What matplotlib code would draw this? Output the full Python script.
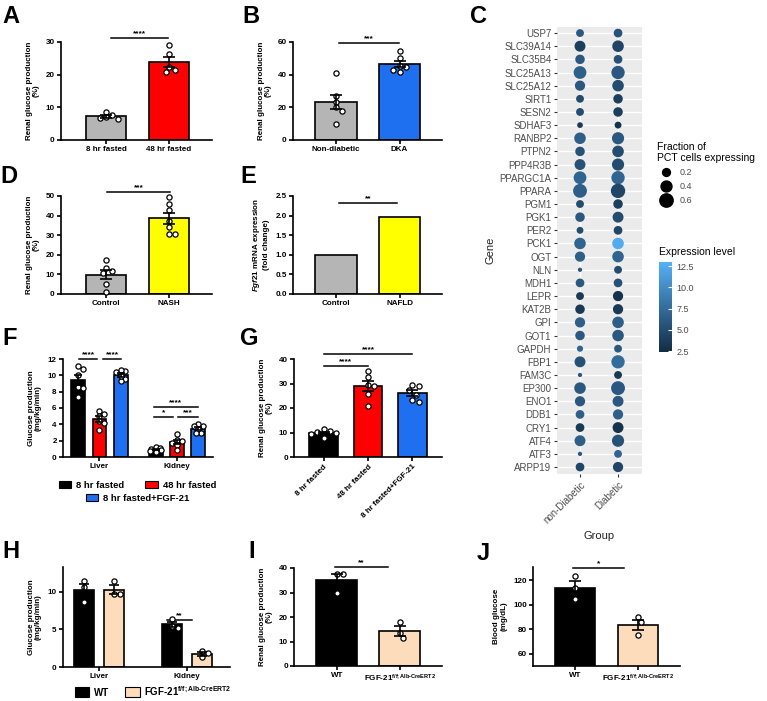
import numpy as np
import matplotlib
matplotlib.use("Agg")
import matplotlib.pyplot as plt
from matplotlib.colors import LinearSegmentedColormap
from matplotlib.patches import Patch

plt.rcParams['font.family'] = ['Liberation Sans', 'DejaVu Sans']
plt.rcParams['font.weight'] = 'bold'
plt.rcParams['mathtext.fontset'] = 'custom'
plt.rcParams['mathtext.default'] = 'regular'
plt.rcParams['mathtext.rm'] = 'Liberation Sans:bold'
plt.rcParams['mathtext.it'] = 'Liberation Sans:italic:bold'
plt.rcParams['mathtext.bf'] = 'Liberation Sans:bold'
plt.rcParams['axes.linewidth'] = 1.2

# ---- data ----
# A
a_groups = ['8 hr fasted', '48 hr fasted']
a_8hr = [8.7, 7.8, 6.9, 6.6, 6.5]
a_48hr = [29.0, 26.4, 22.3, 21.3, 20.8]
# B
b_groups = ['Non-diabetic', 'DKA']
b_nondiab = [40.8, 27.0, 23.5, 20.0, 17.5, 9.6]
b_dka = [54.5, 50.0, 45.3, 45.0, 42.7, 41.8]
# D
d_groups = ['Control', 'NASH']
d_control = [17.5, 13.5, 11.5, 10.8, 5.2, 0.8]
d_nash = [49.5, 46.0, 43.0, 37.0, 34.0, 30.5, 30.5]
# E
e_groups = ['Control', 'NAFLD']
e_fold = [1.0, 1.97]
# F
f_tissues = ['Liver', 'Kidney']
f_conditions = ['8 hr fasted', '48 hr fasted', '8 hr fasted+FGF-21']
f_liver = [[10.8, 11.2, 10.0, 8.6, 7.4, 8.4],
           [5.3, 5.6, 5.0, 4.4, 4.2, 3.35],
           [10.5, 10.6, 10.4, 9.5, 9.3, 9.9]]
f_kidney = [[1.2, 1.1, 1.0, 0.8, 0.7, 0.6],
            [2.85, 2.1, 2.0, 1.7, 1.5, 0.9],
            [4.0, 3.85, 3.75, 3.4, 2.9, 2.9]]
# G
g_groups = ['8 hr fasted', '48 hr fasted', '8 hr fasted+FGF-21']
g_8hr = [11.3, 10.7, 10.4, 9.7, 9.4, 7.6]
g_48hr = [35.1, 32.8, 29.2, 28.8, 25.8, 21.0]
g_fgf = [29.4, 29.0, 27.2, 25.4, 23.1, 22.5]
# H
h_tissues = ['Liver', 'Kidney']
h_wt = [[11.4, 10.6, 8.7], [6.4, 5.4, 5.2]]
h_ko = [[11.5, 9.7, 9.7], [2.1, 1.9, 1.3]]
ko_label = 'FGF-21$^{f/f{;}Alb{\u2010}CreERT2}$'
# I
i_groups = ['WT', ko_label]
i_wt = [37.7, 37.7, 30.0]
i_ko = [18.1, 13.4, 11.4]
# J
j_groups = ['WT', ko_label]
j_wt = [123.3, 114.0, 105.0]
j_ko = [89.9, 85.8, 75.6]
# C
genes = ['USP7', 'SLC39A14', 'SLC35B4', 'SLC25A13', 'SLC25A12', 'SIRT1', 'SESN2',
         'SDHAF3', 'RANBP2', 'PTPN2', 'PPP4R3B', 'PPARGC1A', 'PPARA', 'PGM1', 'PGK1',
         'PER2', 'PCK1', 'OGT', 'NLN', 'MDH1', 'LEPR', 'KAT2B', 'GPI', 'GOT1', 'GAPDH',
         'FBP1', 'FAM3C', 'EP300', 'ENO1', 'DDB1', 'CRY1', 'ATF4', 'ATF3', 'ARPP19']
c_groups = ['non-Diabetic', 'Diabetic']
frac_nondiab = [0.2, 0.4, 0.3, 0.55, 0.35, 0.2, 0.2, 0.1, 0.45, 0.3, 0.4, 0.55, 0.65,
                0.2, 0.3, 0.15, 0.45, 0.35, 0.05, 0.25, 0.2, 0.3, 0.35, 0.3, 0.12,
                0.4, 0.05, 0.45, 0.35, 0.25, 0.25, 0.4, 0.05, 0.25]
frac_diab = [0.25, 0.45, 0.25, 0.6, 0.45, 0.3, 0.3, 0.15, 0.5, 0.45, 0.5, 0.6, 0.7,
             0.3, 0.4, 0.25, 0.45, 0.45, 0.2, 0.25, 0.35, 0.35, 0.45, 0.45, 0.2,
             0.6, 0.2, 0.65, 0.4, 0.35, 0.4, 0.5, 0.2, 0.35]
expr_nondiab = [6.0, 4.0, 6.0, 6.5, 6.0, 5.0, 5.0, 3.5, 6.5, 5.5, 5.5, 7.0, 6.5,
                5.0, 6.0, 5.0, 7.0, 6.5, 6.0, 6.0, 3.5, 3.5, 6.5, 6.0, 7.0,
                5.5, 6.0, 6.0, 6.0, 6.5, 3.5, 6.5, 6.0, 4.5]
expr_diab = [5.5, 4.5, 5.5, 6.0, 5.0, 4.0, 4.0, 3.0, 6.0, 5.0, 5.0, 7.0, 4.5,
             4.0, 5.0, 4.5, 12.5, 7.0, 5.0, 5.5, 3.0, 3.5, 6.5, 6.0, 6.0,
             7.5, 3.5, 6.0, 6.0, 6.5, 3.0, 5.5, 7.0, 4.5]

GRAY = '#b5b5b5'
RED = '#ff0000'
BLUE = '#1f70f0'
YELLOW = '#ffff00'
PEACH = '#fddcbc'

W, H = 767, 701
fig = plt.figure(figsize=(W / 100, H / 100), dpi=100)


def add_ax(l, t, r, b):
    return fig.add_axes([l / W, 1 - b / H, (r - l) / W, (b - t) / H])


def prism(ax, xlim, ylim, yticks, ylabel, fmt=None):
    ax.set_xlim(*xlim)
    ax.set_ylim(*ylim)
    ax.set_yticks(yticks)
    if fmt:
        ax.set_yticklabels([fmt % v for v in yticks])
    for s in ['top', 'right']:
        ax.spines[s].set_visible(False)
    ax.tick_params(length=3, width=1.2, labelsize=5.8, pad=1.5)
    ax.set_ylabel(ylabel, fontsize=5.8, fontweight='bold', labelpad=4, linespacing=1.1)


def swarm_offsets(ax, vals, d=5.5, max_px=None):
    pos = ax.get_position()
    x0, x1 = ax.get_xlim()
    y0, y1 = ax.get_ylim()
    xppu = pos.width * W / (x1 - x0)
    yppu = pos.height * H / (y1 - y0)
    ys = np.asarray(vals) * yppu
    offs = np.zeros(len(vals))
    placed = []
    for i in np.argsort(vals)[::-1]:
        for k in [0, 1, -1, 2, -2, 3, -3, 4, -4, 5, -5]:
            x = k * d * 0.55
            if all((x - px) ** 2 + (ys[i] - py) ** 2 >= d ** 2 for px, py in placed):
                break
        if max_px is not None:
            x = float(np.clip(x, -max_px, max_px))
        placed.append((x, ys[i]))
        offs[i] = x / xppu
    return offs


def bars(ax, xs, sets, colors, width, cap=4.5, d=5.5, max_px=None):
    for x, vals, c in zip(xs, sets, colors):
        vals = np.asarray(vals, dtype=float)
        m = vals.mean()
        ax.bar(x, m, width, color=c, edgecolor='black', linewidth=1.2, zorder=2)
        off = swarm_offsets(ax, vals, d, max_px)
        ax.scatter(x + off, vals, s=14, facecolor='white', edgecolor='black',
                   linewidth=0.9, zorder=3, clip_on=False)
        sem = vals.std(ddof=1) / np.sqrt(len(vals))
        ax.errorbar(x, m, yerr=sem, fmt='none', ecolor='black', elinewidth=1.2,
                    capsize=cap, capthick=1.2, zorder=4)


def sig(ax, x1, x2, y, stars, dy):
    ax.plot([x1, x2], [y, y], color='black', lw=1.1, clip_on=False)
    ax.text((x1 + x2) / 2, y + dy, stars, ha='center', va='bottom', fontsize=6,
            fontweight='bold')


def letter(x, y, s):
    fig.text(x / W, 1 - y / H, s, fontsize=17, fontweight='bold', va='top', ha='left')


# ---- A ----
ax = add_ax(61, 42, 212, 140)
prism(ax, (-0.714, 1.683), (0, 30), [0, 10, 20, 30], 'Renal glucose production\n(%)')
bars(ax, [0, 1], [a_8hr, a_48hr], [GRAY, RED], 0.65)
ax.set_xticks([0, 1])
ax.set_xticklabels(a_groups)
sig(ax, 0.08, 0.98, 31.2, '****', 0.3)

# ---- B ----
ax = add_ax(293, 42, 442, 140)
prism(ax, (-0.677, 1.669), (0, 60), [0, 20, 40, 60], 'Renal glucose production\n(%)')
bars(ax, [0, 1], [b_nondiab, b_dka], [GRAY, BLUE], 0.65)
ax.set_xticks([0, 1])
ax.set_xticklabels(b_groups)
sig(ax, 0.05, 0.99, 59.4, '***', 0.6)

# ---- D ----
ax = add_ax(61, 196, 212, 294)
prism(ax, (-0.714, 1.683), (0, 50), [0, 10, 20, 30, 40, 50], 'Renal glucose production\n(%)')
bars(ax, [0, 1], [d_control, d_nash], [GRAY, YELLOW], 0.65)
ax.set_xticks([0, 1])
ax.set_xticklabels(d_groups)
sig(ax, 0.02, 1.02, 52.0, '***', 0.6)

# ---- E ----
ax = add_ax(293, 196, 442, 294)
prism(ax, (-0.677, 1.669), (0, 2.5), [0, 0.5, 1.0, 1.5, 2.0, 2.5],
      r'$\it{Fgf21}$ mRNA expression' + '\n(fold change)', fmt='%.1f')
ax.bar([0, 1], e_fold, 0.65, color=[GRAY, YELLOW], edgecolor='black', linewidth=1.2)
ax.set_xticks([0, 1])
ax.set_xticklabels(e_groups)
sig(ax, 0.05, 0.96, 2.32, '**', 0.03)

# ---- F ----
ax = add_ax(63, 359, 213, 457)
prism(ax, (-0.471, 1.465), (0, 12), [0, 2, 4, 6, 8, 10, 12], 'Glucose production\n(mg/kg/min)')
f_colors = ['black', RED, BLUE]
for gi, tissue in enumerate([f_liver, f_kidney]):
    bars(ax, [gi - 0.275, gi, gi + 0.275], tissue, f_colors, 0.18, cap=3, d=4.2, max_px=5.5)
ax.set_xticks([0, 1])
ax.set_xticklabels(f_tissues)
sig(ax, -0.27, -0.026, 12.0, '****', 0.1)
sig(ax, 0.039, 0.284, 12.0, '****', 0.1)
sig(ax, 0.703, 1.271, 6.16, '****', 0.1)
sig(ax, 0.703, 0.948, 4.94, '*', 0.1)
sig(ax, 1.013, 1.271, 4.94, '***', 0.1)
hf = [Patch(facecolor=c, edgecolor='black', linewidth=0.8) for c in f_colors]
fig.legend(hf[:2], f_conditions[:2], loc='upper left', ncol=2, frameon=False,
           bbox_to_anchor=(50 / W, 1 - 472 / H), fontsize=6.8, handlelength=1.3,
           handleheight=0.8, handletextpad=0.6, columnspacing=2.2)
fig.legend(hf[2:], f_conditions[2:], loc='upper left', frameon=False,
           bbox_to_anchor=(77 / W, 1 - 485 / H), fontsize=6.8, handlelength=1.3,
           handleheight=0.8, handletextpad=0.6)

# ---- G ----
ax = add_ax(294, 359, 442, 457)
prism(ax, (-0.663, 2.663), (0, 40), [0, 10, 20, 30, 40], 'Renal glucose production\n(%)')
bars(ax, [0, 1, 2], [g_8hr, g_48hr, g_fgf], ['black', RED, BLUE], 0.65)
ax.set_xticks([0, 1, 2])
ax.set_xticklabels(g_groups, rotation=45, ha='right', rotation_mode='anchor')
sig(ax, 0, 1, 37.1, '****', 0.4)
sig(ax, 0, 2, 42.0, '****', 0.4)

# ---- H ----
ax = add_ax(63, 567, 230, 667)
prism(ax, (-0.409, 1.489), (0, 13.3), [0, 5, 10], 'Glucose production\n(mg/kg/min)')
for gi in range(2):
    bars(ax, [gi - 0.168, gi + 0.168], [h_wt[gi], h_ko[gi]], ['black', PEACH], 0.227,
         cap=3.5, max_px=7)
ax.set_xticks([0, 1])
ax.set_xticklabels(h_tissues)
sig(ax, 0.773, 1.057, 6.27, '**', 0.1)
hh = [Patch(facecolor=c, edgecolor='black', linewidth=0.8) for c in ['black', PEACH]]
fig.legend(hh, ['WT', ko_label], loc='upper left', ncol=2, frameon=False,
           bbox_to_anchor=(66 / W, 1 - 675 / H), fontsize=7, handlelength=1.5,
           handleheight=1.2, handletextpad=0.5, columnspacing=1.6)

# ---- I ----
ax = add_ax(294, 568, 442, 666)
prism(ax, (-0.677, 1.669), (0, 40), [0, 10, 20, 30, 40], 'Renal glucose production\n(%)')
bars(ax, [0, 1], [i_wt, i_ko], ['black', PEACH], 0.65)
ax.set_xticks([0, 1])
ax.set_xticklabels(i_groups)
sig(ax, -0.02, 0.81, 40.4, '**', 0.4)

# ---- J ----
ax = add_ax(533, 567, 680, 666)
prism(ax, (-0.667, 1.667), (50, 131), [60, 80, 100, 120], 'Blood glucose\n(mg/dL)')
bars(ax, [0, 1], [j_wt, j_ko], ['black', PEACH], 0.65)
ax.set_xticks([0, 1])
ax.set_xticklabels(j_groups)
sig(ax, -0.03, 0.78, 130.0, '*', 0.6)

# ---- C: dot plot ----
ax = add_ax(557, 27, 642, 474)
cmap = LinearSegmentedColormap.from_list('gg', ['#132B43', '#56B1F7'])
ypos = np.arange(len(genes))[::-1]


def dot_size(f):
    return 150 * np.asarray(f) + 2


for xi, fr, ex in [(1, frac_nondiab, expr_nondiab), (2, frac_diab, expr_diab)]:
    sc = ax.scatter(np.full(len(genes), xi), ypos, s=dot_size(fr), c=ex, cmap=cmap,
                    vmin=2.4, vmax=13.0, zorder=3, linewidths=0)
ax.set_facecolor('#EBEBEB')
for s in ax.spines.values():
    s.set_visible(False)
ax.set_xlim(0.395, 2.63)
ax.set_ylim(-0.53, len(genes) - 0.54)
ax.set_yticks(ypos)
ax.set_yticklabels(genes)
ax.set_xticks([1, 2])
ax.set_xticklabels(c_groups, rotation=45, ha='right', rotation_mode='anchor')
ax.grid(color='white', linewidth=1.0)
ax.set_axisbelow(True)
ax.tick_params(length=2.5, width=0.8, color='#333333', labelcolor='#4D4D4D',
               labelsize=7, pad=1.5)
for t in ax.get_xticklabels() + ax.get_yticklabels():
    t.set_fontweight('normal')
ax.set_ylabel('Gene', fontsize=8, fontweight='normal', color='#222222', labelpad=3)
ax.set_xlabel('Group', fontsize=8, fontweight='normal', color='#222222', labelpad=4)

size_vals = [0.2, 0.4, 0.6]
hs = [plt.Line2D([], [], ls='', marker='o', color='black',
                 markersize=np.sqrt(dot_size(v))) for v in size_vals]
fig.legend(hs, [str(v) for v in size_vals], loc='upper left', frameon=False,
           bbox_to_anchor=(653 / W, 1 - 138 / H), title='Fraction of\nPCT cells expressing',
           alignment='left', title_fontproperties={'size': 7.5, 'weight': 'normal'},
           prop={'size': 6.5, 'weight': 'normal'}, labelcolor='#4D4D4D',
           handletextpad=0.6, labelspacing=0.55, borderaxespad=0)

fig.text(659 / W, 1 - 252 / H, 'Expression level', fontsize=7.5, fontweight='normal',
         va='center', ha='left')
cax = add_ax(659, 262, 672, 352)
cb = fig.colorbar(sc, cax=cax, ticks=[2.5, 5.0, 7.5, 10.0, 12.5])
cb.outline.set_visible(False)
cb.ax.set_yticklabels(['2.5', '5.0', '7.5', '10.0', '12.5'])
cb.ax.tick_params(length=3, color='white', direction='in', labelsize=6.5,
                  labelcolor='#4D4D4D', pad=3)
for t in cb.ax.get_yticklabels():
    t.set_fontweight('normal')

# panel letters
letter(2, 5, 'A')
letter(242, 5, 'B')
letter(470, 5, 'C')
letter(0, 165, 'D')
letter(240, 165, 'E')
letter(2, 327, 'F')
letter(240, 327, 'G')
letter(2, 540, 'H')
letter(248, 540, 'I')
letter(477, 542, 'J')

fig.savefig('out.png', dpi=100)
